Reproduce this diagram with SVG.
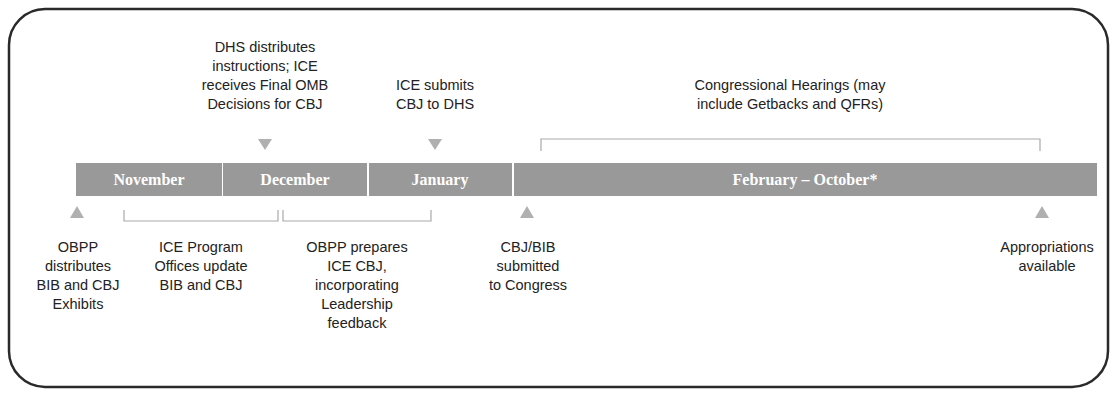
<svg xmlns="http://www.w3.org/2000/svg" width="1115" height="394" viewBox="0 0 1115 394">
<style>
.t{font-family:"Liberation Sans",Arial,sans-serif;font-size:14.5px;fill:#222;text-anchor:middle}
.m{font-family:"Liberation Serif","Times New Roman",serif;font-size:16px;font-weight:bold;fill:#fff;text-anchor:middle}
.seg{fill:#999999}
.tri{fill:#b0b0b0}
.br{fill:none;stroke:#aaaaaa;stroke-width:1.2}
</style>
<rect x="9" y="9" width="1099" height="378" rx="36" fill="#fff" stroke="#2a2a2a" stroke-width="2.5"/>
<g id="timeline">
<rect class="seg" x="76" y="163" width="146" height="33"/>
<rect class="seg" x="223" y="163" width="144" height="33"/>
<rect class="seg" x="369" y="163" width="143" height="33"/>
<rect class="seg" x="514" y="163" width="583" height="33"/>
<text class="m" x="149" y="185">November</text>
<text class="m" x="295" y="185">December</text>
<text class="m" x="440" y="185">January</text>
<text class="m" x="805" y="185">February – October*</text>
</g>
<g id="connectors">
<polygon class="tri" points="258,139 272,139 265,150"/>
<polygon class="tri" points="428,139 442,139 435,150"/>
<polygon class="tri" points="70,218 84,218 77,206"/>
<polygon class="tri" points="520,218 534,218 527,206"/>
<polygon class="tri" points="1035,218 1049,218 1042,206"/>
<path class="br" d="M541,151 V139 H1040 V151"/>
<path class="br" d="M124,210 V221 H278 V210"/>
<path class="br" d="M283,210 V221 H431 V210"/>
</g>
<g id="n-dhs">
<text class="t" x="265" y="52">DHS distributes</text>
<text class="t" x="265" y="71">instructions; ICE</text>
<text class="t" x="265" y="90">receives Final OMB</text>
<text class="t" x="265" y="109">Decisions for CBJ</text>
</g>
<g id="n-ice-submits">
<text class="t" x="435" y="90">ICE submits</text>
<text class="t" x="435" y="109">CBJ to DHS</text>
</g>
<g id="n-hearings">
<text class="t" x="790" y="90">Congressional Hearings (may</text>
<text class="t" x="790" y="109">include Getbacks and QFRs)</text>
</g>
<g id="n-obpp-dist">
<text class="t" x="78" y="252">OBPP</text>
<text class="t" x="78" y="271">distributes</text>
<text class="t" x="78" y="290">BIB and CBJ</text>
<text class="t" x="78" y="309">Exhibits</text>
</g>
<g id="n-ice-program">
<text class="t" x="201" y="252">ICE Program</text>
<text class="t" x="201" y="271">Offices update</text>
<text class="t" x="201" y="290">BIB and CBJ</text>
</g>
<g id="n-obpp-prep">
<text class="t" x="357" y="252">OBPP prepares</text>
<text class="t" x="357" y="271">ICE CBJ,</text>
<text class="t" x="357" y="290">incorporating</text>
<text class="t" x="357" y="309">Leadership</text>
<text class="t" x="357" y="328">feedback</text>
</g>
<g id="n-cbj-bib">
<text class="t" x="528" y="252">CBJ/BIB</text>
<text class="t" x="528" y="271">submitted</text>
<text class="t" x="528" y="290">to Congress</text>
</g>
<g id="n-approp">
<text class="t" x="1047" y="252">Appropriations</text>
<text class="t" x="1047" y="271">available</text>
</g>
</svg>
